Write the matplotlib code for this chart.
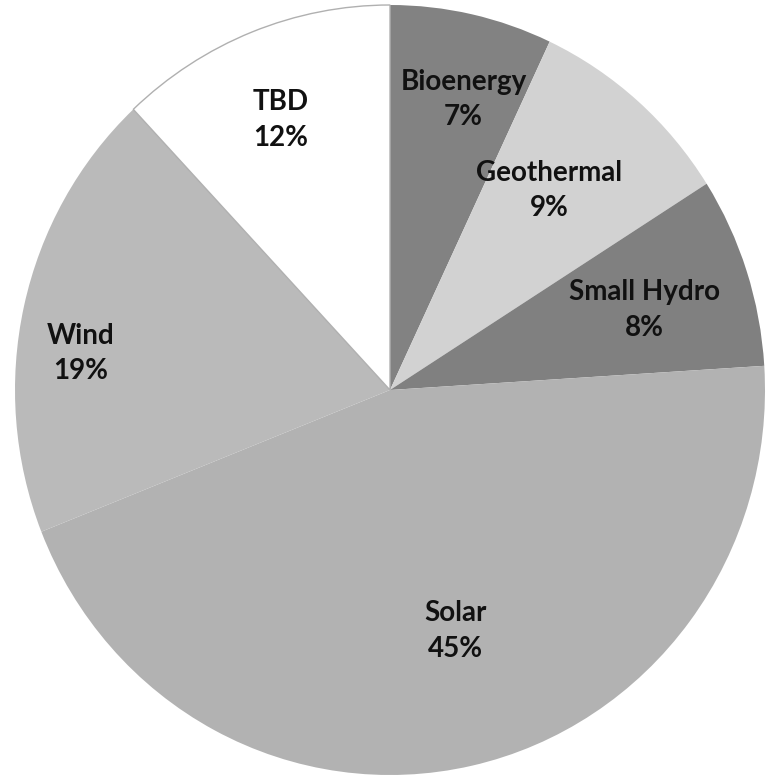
import matplotlib
matplotlib.use("Agg")
import matplotlib.pyplot as plt
import numpy as np

# Data
categories = ["Bioenergy", "Geothermal", "Small Hydro", "Solar", "Wind", "TBD"]
shares = [7, 9, 8, 45, 19, 12]
pct_labels = ["7%", "9%", "8%", "45%", "19%", "12%"]

# Style / layout
colors = ["#828282", "#d2d2d2", "#808080", "#b2b2b2", "#bababa", "#ffffff"]
label_r = [0.78, 0.67, 0.71, 0.65, 0.83, 0.76]
label_dtheta = [-2, 2, -1, 3, 6, 1]

fig = plt.figure(figsize=(7.66, 7.82), dpi=100)
ax = fig.add_axes([15/766, 7/782, 750/766, 770/782])
wedges, _ = ax.pie(shares, colors=colors, startangle=90, counterclock=False,
                   radius=1.0, wedgeprops=dict(linewidth=0))
# outline for white slice
wedges[-1].set_edgecolor("#b0b0b0")
wedges[-1].set_linewidth(1.0)
ax.set_aspect("auto")
ax.set_xlim(-1, 1)
ax.set_ylim(-1, 1)
ax.axis("off")

for w, cat, pl, r, dt in zip(wedges, categories, pct_labels, label_r, label_dtheta):
    mid = np.deg2rad((w.theta1 + w.theta2) / 2 + dt)
    x, y = r * np.cos(mid), r * np.sin(mid)
    ax.text(x, y, f"{cat}\n{pl}", ha="center", va="center", fontsize=20,
            fontweight="bold", family=["Lato", "DejaVu Sans"], color="#111111",
            linespacing=1.45)

fig.savefig("out.png", dpi=100, facecolor="white")
